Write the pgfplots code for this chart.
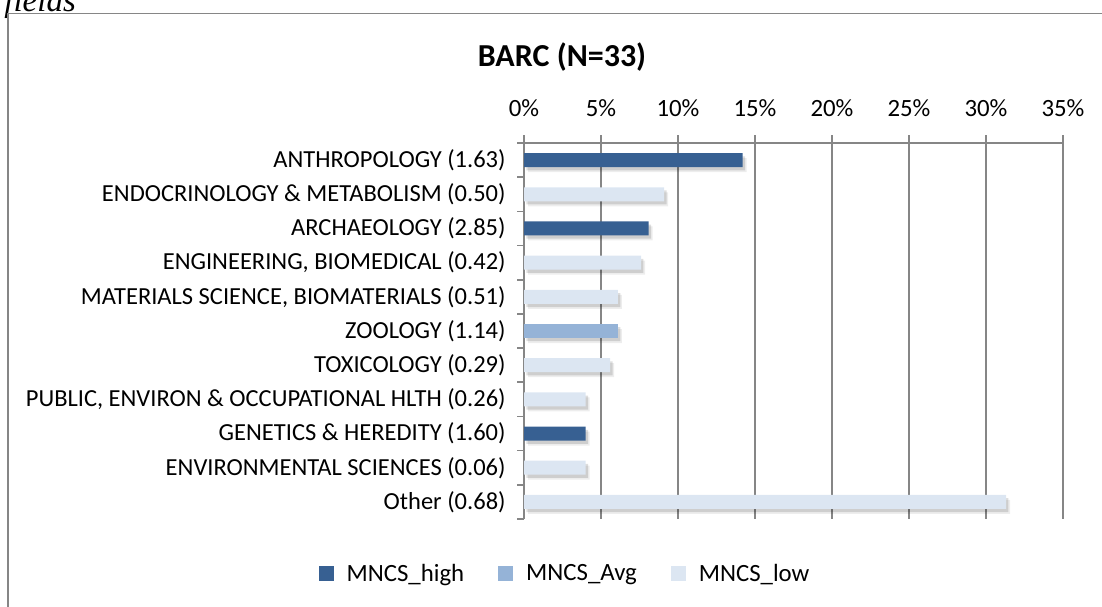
\documentclass[border=0pt]{standalone}
\usepackage{pgfplots}
\pgfplotsset{compat=1.18}
\usepackage{fontspec}
\setmainfont{Carlito}
\newfontfamily\capfont{Liberation Serif}

\definecolor{mhigh}{HTML}{376092}
\definecolor{mavg}{HTML}{95B3D7}
\definecolor{mlow}{HTML}{DCE6F2}
\definecolor{axgray}{HTML}{868686}

\begin{document}
\begin{tikzpicture}
  % 1 px of the reference = 0.5pt
  \useasboundingbox (0pt,0pt) rectangle (551pt,-303pt);
  \node[anchor=base west, inner sep=0pt, font=\capfont\itshape\fontsize{16.5}{18}\selectfont] at (2pt,-5.8pt) {fields};
  \draw[axgray, line width=0.8pt] (4pt,-310pt) -- (4pt,-6.8pt) -- (560pt,-6.8pt);
  \node[font=\bfseries\fontsize{16}{18}\selectfont] at (281pt,-28.5pt) {BARC (N=33)};

  \begin{axis}[
      at={(262pt,-71.5pt)}, anchor=north west,
      scale only axis,
      width=269.5pt, height=188pt,
      xmin=0, xmax=35,
      ymin=-0.5, ymax=10.5,
      y dir=reverse,
      axis x line*=top,
      axis y line*=left,
      axis line style={axgray, line width=0.8pt},
      xtick={0,5,...,35},
      xticklabels={0\%,5\%,10\%,15\%,20\%,25\%,30\%,35\%},
      xmajorgrids=true,
      grid style={axgray, line width=0.8pt},
      tick align=outside,
      major tick length=4pt,
      xtick style={draw=axgray, line width=0.8pt},
      xticklabel style={font=\fontsize{12.4}{14}\selectfont, yshift=5.5pt},
      ytick={0,...,10},
      yticklabels={
        ANTHROPOLOGY (1.63),
        ENDOCRINOLOGY \& METABOLISM (0.50),
        ARCHAEOLOGY (2.85),
        {ENGINEERING, BIOMEDICAL (0.42)},
        {MATERIALS SCIENCE, BIOMATERIALS (0.51)},
        ZOOLOGY (1.14),
        TOXICOLOGY (0.29),
        {PUBLIC, ENVIRON \& OCCUPATIONAL HLTH (0.26)},
        GENETICS \& HEREDITY (1.60),
        ENVIRONMENTAL SCIENCES (0.06),
        Other (0.68)},
      major y tick style={draw=none},
      minor ytick={-0.5,0.5,...,10.5},
      minor tick length=3.5pt,
      minor y tick style={draw=axgray, line width=0.8pt},
      yticklabel style={font=\fontsize{12.25}{14}\selectfont, anchor=east, inner sep=0pt, xshift=-5pt},
      every axis plot/.append style={xbar, bar width=7pt, bar shift=0pt, draw=none},
      legend columns=3,
      legend style={draw=none, at={(0.078,-0.146)}, anchor=center,
        font=\fontsize{12.4}{14}\selectfont,
        /tikz/every even column/.append style={column sep=15pt}},
      legend image code/.code={\fill[#1] (0pt,-3.75pt) rectangle (7.5pt,3.75pt); \path (12pt,0pt);},
    ]
    % soft shadows under the bars
    \addplot[fill=black, opacity=0.13, xshift=1.2pt, yshift=-1.6pt, forget plot]
      coordinates {(14.2,0) (9.1,1) (8.1,2) (7.6,3) (6.1,4) (6.1,5) (5.6,6) (4.0,7) (4.0,8) (4.0,9) (31.3,10)};
    \addplot[fill=black, opacity=0.07, xshift=2pt, yshift=-2.5pt, forget plot]
      coordinates {(14.2,0) (9.1,1) (8.1,2) (7.6,3) (6.1,4) (6.1,5) (5.6,6) (4.0,7) (4.0,8) (4.0,9) (31.3,10)};
    \addplot[fill=mhigh] coordinates {(14.2,0) (8.1,2) (4.0,8)};
    \addplot[fill=mavg] coordinates {(6.1,5)};
    \addplot[fill=mlow] coordinates {(9.1,1) (7.6,3) (6.1,4) (5.6,6) (4.0,7) (4.0,9) (31.3,10)};
    \legend{MNCS\_high, MNCS\_Avg, MNCS\_low}
  \end{axis}
\end{tikzpicture}
\end{document}
